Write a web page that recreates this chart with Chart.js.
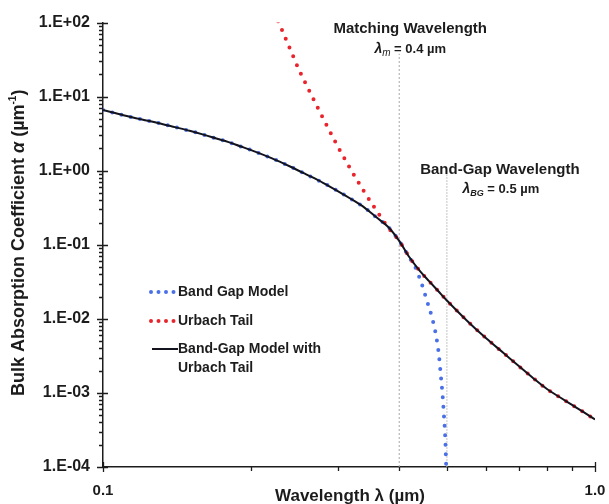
<!DOCTYPE html>
<html>
<head>
<meta charset="utf-8">
<script src="https://cdn.jsdelivr.net/npm/chart.js@4.4.0/dist/chart.umd.min.js"></script>
<style>
  html, body { margin: 0; padding: 0; background: #fff; }
  canvas { display: block; }
</style>
</head>
<body>
<canvas id="absorptionChart" width="609" height="504"></canvas>
<script>
// wavelength in um, absorption coefficient in 1/um
const combinedWavelength = [0.10, 0.11, 0.12, 0.13, 0.14, 0.15, 0.16, 0.17, 0.18, 0.19, 0.20, 0.22, 0.24, 0.26, 0.28, 0.30, 0.32, 0.34, 0.36, 0.38, 0.40,
  0.42, 0.44, 0.46, 0.48, 0.50, 0.55, 0.60, 0.65, 0.70, 0.75, 0.80, 0.85, 0.90, 0.95, 1.00];
const combinedAlpha = [6.6, 5.62, 4.92, 4.38, 3.88, 3.46, 3.07, 2.72, 2.43, 2.14, 1.90, 1.48, 1.14, 0.88, 0.688, 0.532, 0.412, 0.318, 0.233, 0.174, 0.113,
  0.0673, 0.0448, 0.0323, 0.0238, 0.0177, 0.00938, 0.00551, 0.00351, 0.00231, 0.00157, 0.00112, 0.000867, 0.000683, 0.000545, 0.000438];

const bandGapWavelength = [0.10, 0.11, 0.12, 0.13, 0.14, 0.15, 0.16, 0.17, 0.18, 0.19, 0.20, 0.22, 0.24, 0.26, 0.28, 0.30, 0.32, 0.34, 0.36, 0.38, 0.40,
  0.42, 0.43, 0.443, 0.455, 0.467, 0.476, 0.482, 0.486, 0.490, 0.493, 0.4956, 0.498, 0.499];
const bandGapAlpha = [6.6, 5.62, 4.92, 4.38, 3.88, 3.46, 3.07, 2.72, 2.43, 2.14, 1.90, 1.48, 1.14, 0.88, 0.688, 0.532, 0.412, 0.318, 0.233, 0.174, 0.113,
  0.066, 0.052, 0.0315, 0.0179, 0.0101, 0.0056, 0.0031, 0.0017, 0.00094, 0.00051, 0.000285, 0.000118, 0.00006];

const urbachWavelength = [0.227, 0.23, 0.24, 0.25, 0.26, 0.28, 0.30, 0.32, 0.34, 0.36, 0.38, 0.40,
  0.42, 0.44, 0.46, 0.48, 0.50, 0.55, 0.60, 0.65, 0.70, 0.75, 0.80, 0.85, 0.90, 0.95, 1.00];
const urbachAlpha = [104, 85.5, 44.1, 23.4, 13.7, 5.14, 2.13, 1.00, 0.512, 0.287, 0.171, 0.113,
  0.0673, 0.0448, 0.0323, 0.0238, 0.0177, 0.00938, 0.00551, 0.00351, 0.00231, 0.00157, 0.00112, 0.000867, 0.000683, 0.000545, 0.000438];

// vertical guide lines: matching wavelength and band-gap wavelength
const guideWavelength = [0.4, 0.5];
const guideTopAlpha = [38, 0.9];

const seriesNames = ['Band Gap Model', 'Urbach Tail', 'Band-Gap Model with\nUrbach Tail'];
const xTickValues = [0.1, 1.0];
const xTickLabels = ['0.1', '1.0'];
const yTickValues = [1e-4, 1e-3, 1e-2, 1e-1, 1e0, 1e1, 1e2];
const yTickLabels = ['1.E-04', '1.E-03', '1.E-02', '1.E-01', '1.E+00', '1.E+01', '1.E+02'];

const FONT = "'Liberation Sans', Arial, Helvetica, sans-serif";
const INK = '#1c1c1c';
const BLUE = 'rgb(74, 112, 232)';
const RED = 'rgb(232, 36, 44)';
const DARK = '#14141e';

const toPoints = (xs, ys) => xs.map((x, i) => ({ x: x, y: ys[i] }));

const dotted = (color) => ({
  borderColor: color,
  borderWidth: 4,
  borderDash: [0, 9.5],
  borderCapStyle: 'round',
  pointRadius: 0,
  fill: false,
  cubicInterpolationMode: 'monotone'
});

const datasets = [
  Object.assign({ label: seriesNames[0], data: toPoints(bandGapWavelength, bandGapAlpha), order: 2 }, dotted(BLUE)),
  Object.assign({ label: seriesNames[1], data: toPoints(urbachWavelength, urbachAlpha), order: 1 }, dotted(RED)),
  {
    label: seriesNames[2],
    data: toPoints(combinedWavelength, combinedAlpha),
    borderColor: DARK,
    borderWidth: 2,
    pointRadius: 0,
    fill: false,
    cubicInterpolationMode: 'monotone',
    order: 0
  },
  {
    label: 'guide-m',
    data: [{ x: guideWavelength[0], y: 1e-4 }, { x: guideWavelength[0], y: guideTopAlpha[0] }],
    borderColor: '#a8a8a8',
    borderWidth: 1,
    borderDash: [2, 2],
    pointRadius: 0,
    order: 4
  },
  {
    label: 'guide-bg',
    data: [{ x: guideWavelength[1], y: 1e-4 }, { x: guideWavelength[1], y: guideTopAlpha[1] }],
    borderColor: '#c4c4c4',
    borderWidth: 1,
    borderDash: [2, 1],
    pointRadius: 0,
    order: 4
  }
];

// draws a run of differently styled text pieces centred on cx, baseline at y
function drawRuns(ctx, runs, cx, y) {
  let total = 0;
  runs.forEach(r => { ctx.font = r.font; r.w = ctx.measureText(r.text).width; total += r.w; });
  let x = cx - total / 2;
  ctx.textAlign = 'left';
  ctx.textBaseline = 'alphabetic';
  runs.forEach(r => { ctx.font = r.font; ctx.fillText(r.text, x, y + (r.dy || 0)); x += r.w; });
}

const decorations = {
  id: 'decorations',
  afterDraw(chart) {
    const ctx = chart.ctx;
    const area = chart.chartArea;
    const xs = chart.scales.x, ys = chart.scales.y;
    ctx.save();

    // tick marks
    ctx.strokeStyle = INK;
    ctx.lineWidth = 1.3;
    ctx.setLineDash([]);
    ctx.beginPath();
    for (let e = -4; e <= 2; e++) {
      for (let m = 1; m <= 9; m++) {
        const v = m * Math.pow(10, e);
        if (v > 100) break;
        const py = Math.round(ys.getPixelForValue(v)) + 0.5;
        if (m === 1) { ctx.moveTo(area.left - 6, py); ctx.lineTo(area.left + 5, py); }
        else { ctx.moveTo(area.left - 4, py); ctx.lineTo(area.left, py); }
      }
    }
    for (let m = 1; m <= 10; m++) {
      const px = Math.round(xs.getPixelForValue(m / 10)) + 0.5;
      if (m === 1 || m === 10) { ctx.moveTo(px, area.bottom - 5); ctx.lineTo(px, area.bottom + 5); }
      else { ctx.moveTo(px, area.bottom); ctx.lineTo(px, area.bottom + 4); }
    }
    ctx.stroke();

    ctx.fillStyle = INK;
    const bold = (s) => 'bold ' + s + 'px ' + FONT;
    const boldIt = (s) => 'italic bold ' + s + 'px ' + FONT;
    const it = (s) => 'italic ' + s + 'px ' + FONT;

    // x tick labels
    ctx.font = bold(15);
    ctx.textAlign = 'center';
    ctx.textBaseline = 'middle';
    xTickValues.forEach((v, i) => ctx.fillText(xTickLabels[i], xs.getPixelForValue(v), area.bottom + 24));

    // annotations
    const mx = xs.getPixelForValue(guideWavelength[0]) + 11;
    drawRuns(ctx, [{ text: 'Matching Wavelength', font: bold(15) }], mx, 33);
    drawRuns(ctx, [
      { text: 'λ', font: boldIt(14) },
      { text: 'm', font: it(10), dy: 3 },
      { text: ' = 0.4 µm', font: bold(13) }
    ], mx, 53);
    const bx = xs.getPixelForValue(guideWavelength[1]) + 53;
    drawRuns(ctx, [{ text: 'Band-Gap Wavelength', font: bold(15) }], bx, 174);
    drawRuns(ctx, [
      { text: 'λ', font: boldIt(14) },
      { text: 'BG', font: boldIt(9), dy: 3 },
      { text: ' = 0.5 µm', font: bold(13) }
    ], bx + 1, 193);

    // axis titles
    drawRuns(ctx, [{ text: 'Wavelength λ (µm)', font: bold(17) }], (area.left + area.right) / 2 + 1, 501);
    ctx.save();
    ctx.translate(24, (area.top + area.bottom) / 2 - 2);
    ctx.rotate(-Math.PI / 2);
    drawRuns(ctx, [
      { text: 'Bulk Absorption Coefficient ', font: bold(18) },
      { text: 'α', font: boldIt(18) },
      { text: ' (µm', font: bold(18) },
      { text: '-1', font: bold(10), dy: -8 },
      { text: ')', font: bold(18) }
    ], 0, 0);
    ctx.restore();

    // legend
    const rows = [292, 321, 349];
    chart.data.datasets.slice(0, 3).forEach((ds, i) => {
      const y = rows[i];
      ctx.save();
      ctx.strokeStyle = ds.borderColor;
      ctx.lineWidth = ds.borderWidth;
      ctx.lineCap = ds.borderCapStyle || 'butt';
      ctx.beginPath();
      if (ds.borderDash) { ctx.setLineDash([0, 7.5]); ctx.moveTo(151, y); ctx.lineTo(175, y); }
      else { ctx.moveTo(152, y); ctx.lineTo(178, y); }
      ctx.stroke();
      ctx.restore();
      ctx.font = bold(14);
      ctx.textAlign = 'left';
      ctx.textBaseline = 'middle';
      ds.label.split('\n').forEach((line, k) => ctx.fillText(line, 178, y + k * 19));
    });

    ctx.restore();
  }
};

new Chart(document.getElementById('absorptionChart'), {
  type: 'line',
  data: { datasets: datasets },
  options: {
    responsive: false,
    animation: false,
    devicePixelRatio: 1,
    layout: { padding: { top: 22, right: 14, left: 0, bottom: 0 }, autoPadding: false },
    plugins: { legend: { display: false }, tooltip: { enabled: false } },
    scales: {
      x: {
        type: 'logarithmic',
        min: 0.1,
        max: 1.0,
        afterFit: s => { s.height = 37; },
        grid: { display: false, drawTicks: false },
        border: { display: true, color: INK, width: 1.5 },
        ticks: { display: false }
      },
      y: {
        type: 'logarithmic',
        min: 1e-4,
        max: 100,
        afterFit: s => { s.width = 103; },
        afterBuildTicks: s => { s.ticks = yTickValues.map(v => ({ value: v })); },
        grid: { display: false, drawTicks: false },
        border: { display: true, color: INK, width: 1.5 },
        ticks: {
          padding: 13,
          autoSkip: false,
          color: INK,
          font: { family: FONT, size: 16, weight: 'bold' },
          callback: (v, i) => yTickLabels[i]
        }
      }
    }
  },
  plugins: [decorations]
});
</script>
</body>
</html>
